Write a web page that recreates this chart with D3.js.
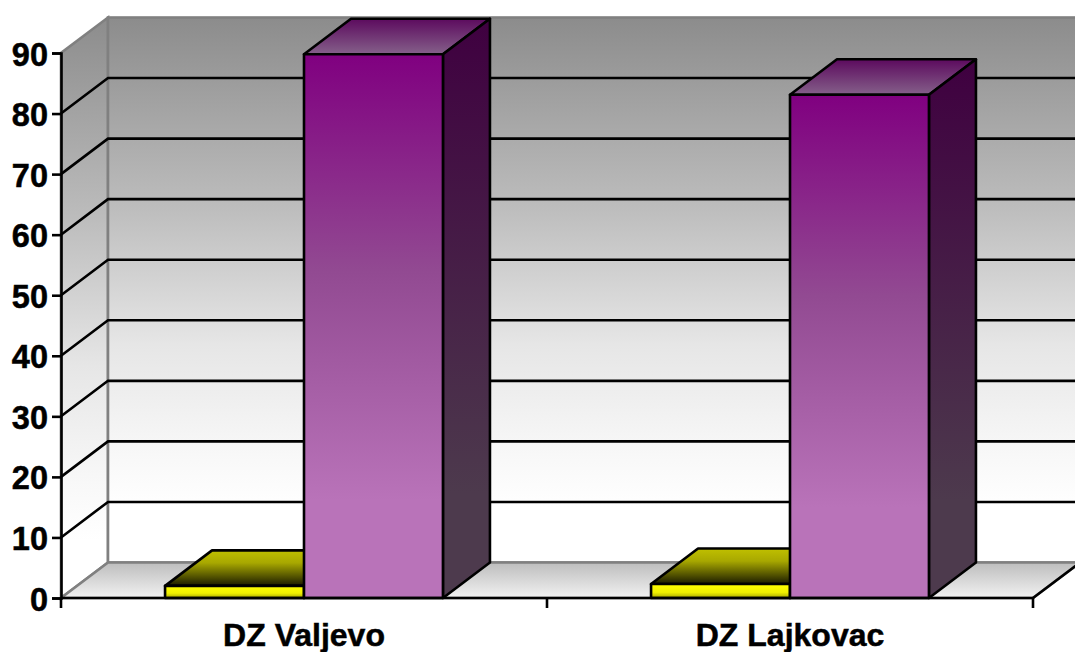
<!DOCTYPE html>
<html>
<head>
<meta charset="utf-8">
<script src="https://cdn.jsdelivr.net/npm/d3@7"></script>
<style>
html, body { margin: 0; padding: 0; background: #fff; overflow: hidden; }
svg { display: block; }
text { font-family: "Liberation Sans", Arial, sans-serif; font-weight: bold; fill: #000; stroke: #000; stroke-width: 0.5px; }
</style>
</head>
<body>
<svg id="chart" width="1075" height="652"></svg>
<script>
const categories = ["DZ Valjevo", "DZ Lajkovac"];
const yellowValues = [2, 2.3];
const purpleValues = [89.8, 83.1];
const yTicks = [0, 10, 20, 30, 40, 50, 60, 70, 80, 90];

const plotLeft = 61, plotRight = 1033, plotTop = 53, plotBottom = 598;
const depthX = 47, depthY = 35.5;
const lineW = 2.6;

const svg = d3.select("#chart");

const x = d3.scaleBand().domain(categories).range([plotLeft, plotRight]);
const y = d3.scaleLinear().domain([0, 90]).range([plotBottom, plotTop]);

// bars sit side by side, with gaps either side inside the band
const inner = d3.scaleBand()
    .domain(["yellow", "purple"])
    .range([0, x.bandwidth()])
    .paddingOuter(0.7489)
    .paddingInner(0);

const defs = svg.append("defs");

function gradient(id, stops) {
    const g = defs.append("linearGradient")
        .attr("id", id)
        .attr("x1", 0).attr("y1", 0).attr("x2", 0).attr("y2", 1);
    stops.forEach(s => g.append("stop").attr("offset", s[0]).attr("stop-color", s[1]));
}

gradient("wall", [[0, "#8c8c8c"], [0.35, "#bdbdbd"], [0.6, "#e6e6e6"], [0.8, "#f8f8f8"], [0.9, "#ffffff"]]);
gradient("floor", [[0, "#bdbdbd"], [1, "#f2f2f2"]]);
gradient("purpleFront", [[0, "#800080"], [0.4, "#924a92"], [0.82, "#b973b9"], [1, "#b973b9"]]);
gradient("purpleSide", [[0, "#3f0040"], [0.82, "#4d3a4d"], [1, "#4d3a4d"]]);
gradient("purpleTop", [[0, "#5c0a5e"], [1, "#85608a"]]);
gradient("yellowFront", [[0, "#ffff00"], [0.6, "#f0f000"], [1, "#a8a800"]]);
gradient("yellowTop", [[0, "#c0c000"], [0.35, "#a8a800"], [1, "#1a1a00"]]);

function poly(points) {
    return points.map(p => p.join(",")).join(" ");
}

// walls and floor
svg.append("polygon")
    .attr("points", poly([[plotLeft, y(0)], [plotLeft + depthX, y(0) - depthY], [plotLeft + depthX, y(90) - depthY], [plotLeft, y(90)]]))
    .attr("fill", "url(#wall)")
    .attr("stroke", "#808080").attr("stroke-width", lineW);

svg.append("rect")
    .attr("x", plotLeft + depthX).attr("y", y(90) - depthY)
    .attr("width", plotRight - plotLeft).attr("height", y(0) - y(90))
    .attr("fill", "url(#wall)")
    .attr("stroke", "#808080").attr("stroke-width", lineW);

svg.append("polygon")
    .attr("points", poly([[plotLeft, y(0)], [plotRight, y(0)], [plotRight + depthX, y(0) - depthY], [plotLeft + depthX, y(0) - depthY]]))
    .attr("fill", "url(#floor)")
    .attr("stroke", "#808080").attr("stroke-width", lineW);

svg.append("line")
    .attr("x1", plotRight).attr("y1", y(0))
    .attr("x2", plotRight + depthX).attr("y2", y(0) - depthY)
    .attr("stroke", "#000").attr("stroke-width", lineW);

// gridlines along the side wall and back wall
const grid = svg.append("g").attr("fill", "none").attr("stroke", "#000").attr("stroke-width", lineW);
yTicks.filter(t => t > 0 && t < 90).forEach(t => {
    grid.append("polyline")
        .attr("points", poly([[plotLeft, y(t)], [plotLeft + depthX, y(t) - depthY], [plotRight + depthX, y(t) - depthY]]));
});

// bars
function drawBar(bandX, w, value, front, side, topFill) {
    const yv = y(value);
    const g = svg.append("g").attr("stroke", "#000").attr("stroke-width", lineW).attr("stroke-linejoin", "round");
    g.append("polygon")
        .attr("points", poly([[bandX, yv], [bandX + w, yv], [bandX + w + depthX, yv - depthY], [bandX + depthX, yv - depthY]]))
        .attr("fill", topFill);
    g.append("polygon")
        .attr("points", poly([[bandX + w, yv], [bandX + w + depthX, yv - depthY], [bandX + w + depthX, y(0) - depthY], [bandX + w, y(0)]]))
        .attr("fill", side);
    g.append("rect")
        .attr("x", bandX).attr("y", yv)
        .attr("width", w).attr("height", y(0) - yv)
        .attr("fill", front);
}

categories.forEach((c, i) => {
    const w = inner.bandwidth();
    drawBar(x(c) + inner("yellow"), w, yellowValues[i], "url(#yellowFront)", "#333300", "url(#yellowTop)");
    drawBar(x(c) + inner("purple"), w, purpleValues[i], "url(#purpleFront)", "url(#purpleSide)", "url(#purpleTop)");
});

// axes
const yAxis = svg.append("g")
    .attr("transform", `translate(${plotLeft},0)`)
    .call(d3.axisLeft(y).tickValues(yTicks).tickSize(9).tickPadding(4));
yAxis.selectAll("path").attr("stroke", "#000").attr("stroke-width", lineW);
yAxis.selectAll("line").attr("stroke", "#000").attr("stroke-width", lineW);
yAxis.selectAll("text").attr("font-size", 32.5).attr("dy", "0.37em");

const xAxis = svg.append("g")
    .attr("transform", `translate(0,${plotBottom})`)
    .call(d3.axisBottom(x).tickSize(0).tickPadding(25));
xAxis.selectAll("text").attr("font-size", 32);
xAxis.select("path").remove();
xAxis.selectAll("line").remove();

svg.append("line")
    .attr("x1", plotLeft).attr("x2", plotRight)
    .attr("y1", plotBottom).attr("y2", plotBottom)
    .attr("stroke", "#000").attr("stroke-width", lineW);

svg.selectAll(".band-tick")
    .data([plotLeft, x(categories[1]), plotRight])
    .join("line")
    .attr("class", "band-tick")
    .attr("x1", d => d).attr("x2", d => d)
    .attr("y1", plotBottom).attr("y2", plotBottom + 10)
    .attr("stroke", "#000").attr("stroke-width", lineW);
</script>
</body>
</html>
